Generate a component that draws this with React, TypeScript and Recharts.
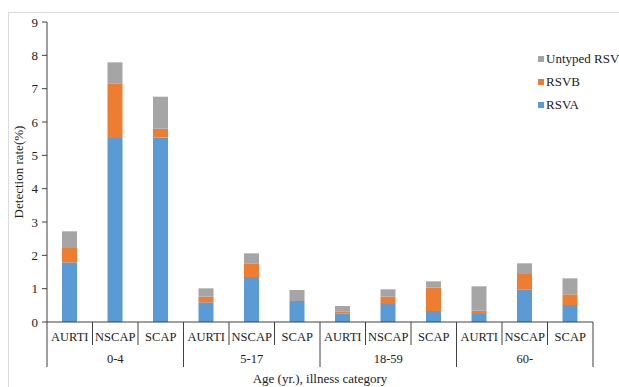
import React from 'react';
import { BarChart, Bar, XAxis, YAxis, Legend } from 'recharts';

const groups = ['0-4', '0-4', '0-4', '5-17', '5-17', '5-17', '18-59', '18-59', '18-59', '60-', '60-', '60-'];
const categories = ['AURTI', 'NSCAP', 'SCAP', 'AURTI', 'NSCAP', 'SCAP', 'AURTI', 'NSCAP', 'SCAP', 'AURTI', 'NSCAP', 'SCAP'];
const rsva = [1.79, 5.52, 5.53, 0.59, 1.35, 0.63, 0.26, 0.54, 0.33, 0.24, 0.98, 0.51];
const rsvb = [0.43, 1.64, 0.27, 0.17, 0.41, 0.0, 0.06, 0.22, 0.70, 0.10, 0.46, 0.32];
const untyped = [0.50, 0.63, 0.96, 0.25, 0.30, 0.33, 0.16, 0.22, 0.19, 0.73, 0.32, 0.48];
const yTicks = [0, 1, 2, 3, 4, 5, 6, 7, 8, 9];

const data = categories.map((c, i) => ({
  key: `${groups[i]}|${c}|${i}`,
  cat: c,
  group: groups[i],
  RSVA: rsva[i],
  RSVB: rsvb[i],
  'Untyped RSV': untyped[i],
}));

const FONT = '"Liberation Serif", "Times New Roman", serif';
const LINE = '#404040';

const CatTick = (props: any) => {
  const { x, y, payload } = props;
  const idx = payload.index as number;
  const half = payload.offset || 22.75;
  const d = data[idx];
  const isGroupStart = idx % 3 === 0;
  const isLast = idx === data.length - 1;
  return (
    <g>
      <line x1={x - half} y1={y} x2={x - half} y2={y + (isGroupStart ? 45 : 23)} stroke={LINE} strokeWidth={1} />
      {isLast && <line x1={x + half} y1={y} x2={x + half} y2={y + 45} stroke={LINE} strokeWidth={1} />}
      <text x={x} y={y + 19} textAnchor="middle" fontFamily={FONT} fontSize={12.5} fill="#222">
        {d ? d.cat : ''}
      </text>
      {idx % 3 === 1 && d && (
        <text x={x} y={y + 41} textAnchor="middle" fontFamily={FONT} fontSize={12.5} fill="#222">
          {d.group}
        </text>
      )}
    </g>
  );
};

const LegendContent = (props: any) => {
  const items = [...(props.payload || [])].reverse();
  return (
    <div style={{ fontFamily: FONT, fontSize: 13, color: '#222' }}>
      {items.map((it: any) => (
        <div key={it.value} style={{ display: 'flex', alignItems: 'center', height: 23 }}>
          <span style={{ display: 'inline-block', width: 6, height: 6, background: it.color, marginRight: 2 }} />
          <span>{it.value}</span>
        </div>
      ))}
    </div>
  );
};

const YLabel = (props: any) => {
  const { viewBox } = props;
  const cx = viewBox.x + 18;
  const cy = viewBox.y + viewBox.height / 2;
  return (
    <text x={cx} y={cy} transform={`rotate(-90 ${cx} ${cy})`} textAnchor="middle" dominantBaseline="central" fontFamily={FONT} fontSize={13} fill="#222">
      Detection rate(%)
    </text>
  );
};

export default function App() {
  return (
    <div style={{ position: 'absolute', left: 0, top: 0, width: 619, height: 387, background: '#fff', overflow: 'hidden' }}>
      <div style={{ position: 'absolute', left: 8, top: 12, width: 640, height: 400, border: '1px solid #dcdcdc' }} />
      <div style={{ position: 'absolute', left: 0, top: 0 }}>
        <BarChart width={619} height={387} data={data} margin={{ top: 22, right: 26, bottom: 0, left: 0 }} barSize={15}>
          <XAxis
            dataKey="key"
            interval={0}
            height={65}
            axisLine={{ stroke: LINE }}
            tickLine={false}
            tickSize={0}
            tickMargin={0}
            tick={<CatTick />}
            label={{ value: 'Age (yr.), illness category', position: 'insideBottom', offset: 4, fontFamily: FONT, fontSize: 13, fill: '#222' }}
          />
          <YAxis
            width={47}
            domain={[0, 9]}
            ticks={yTicks}
            interval={0}
            axisLine={{ stroke: LINE }}
            tickLine={{ stroke: LINE }}
            tickSize={5}
            tickMargin={4}
            tick={{ fontFamily: FONT, fontSize: 13, fill: '#222' }}
            label={<YLabel />}
          />
          <Legend
            layout="vertical"
            align="center"
            verticalAlign="middle"
            content={<LegendContent />}
            wrapperStyle={{ position: 'absolute', left: 538, top: 47, width: 90 }}
          />
          <Bar dataKey="RSVA" stackId="a" fill="#5B9BD5" isAnimationActive={false} />
          <Bar dataKey="RSVB" stackId="a" fill="#ED7D31" isAnimationActive={false} />
          <Bar dataKey="Untyped RSV" stackId="a" fill="#A5A5A5" isAnimationActive={false} />
        </BarChart>
      </div>
    </div>
  );
}
